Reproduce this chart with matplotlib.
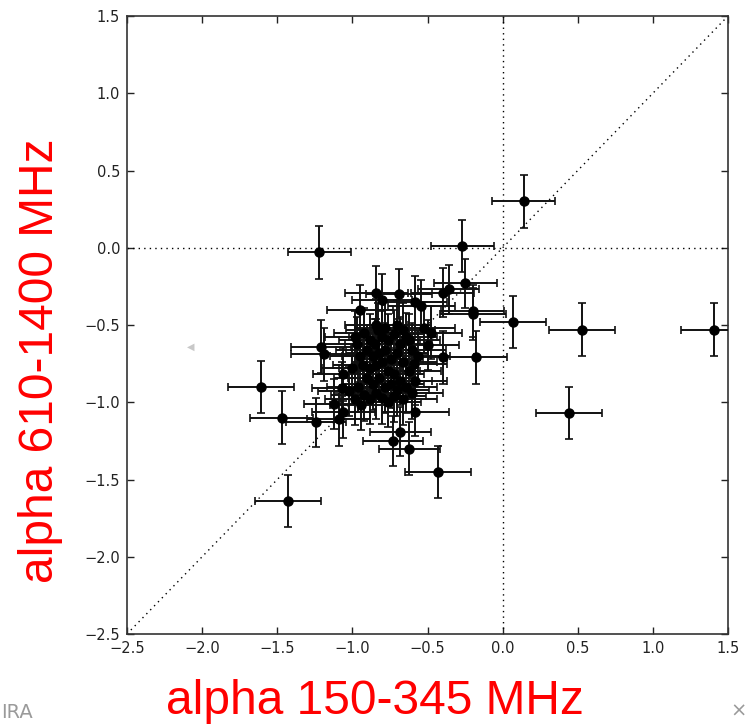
import matplotlib
matplotlib.use("Agg")
import matplotlib.pyplot as plt

plt.rcParams['font.family'] = ['DejaVu Sans']

# spectral indices: 150-345 MHz (x) vs 610-1400 MHz (y)
alpha_low = [
    -1.22, 0.14, -0.27, 0.07, 0.53, 1.41, 0.44, -1.61, -1.47, -1.43,
    -0.43, -0.62, -0.68, -0.73, -1.24, -1.09, -1.06, -1.12, -1.07, -1.02,
    -1.06, -0.58, -0.18, -0.40, -0.20, -0.20, -0.25, -0.36, -0.40, -0.58,
    -0.54, -0.69, -0.84, -0.80, -0.95, -0.52, -0.48, -1.21, -1.19, -0.83,
    -0.92, -0.88, -0.85, -0.80, -0.76, -0.72, -0.68, -0.64, -0.60, -0.90,
    -0.95, -0.86, -0.82, -0.78, -0.74, -0.70, -0.66, -0.62, -0.93, -0.88,
    -0.84, -0.80, -0.76, -0.72, -0.68, -0.90, -0.86, -0.82, -0.78, -0.74,
    -0.70, -0.64, -0.96, -0.92, -0.88, -0.84, -0.80, -0.76, -0.72, -0.98,
    -0.94, -0.66, -0.60, -0.58, -0.97, -1.00, -0.84, -0.78, -0.70, -0.66,
    -0.62, -0.56, -0.98, -0.59, -0.50,
]
alpha_high = [
    -0.03, 0.30, 0.01, -0.48, -0.53, -0.53, -1.07, -0.90, -1.10, -1.64,
    -1.45, -1.30, -1.19, -1.25, -1.13, -1.11, -1.06, -1.01, -0.91, -0.93,
    -0.82, -1.06, -0.71, -0.71, -0.41, -0.43, -0.23, -0.27, -0.29, -0.35,
    -0.38, -0.30, -0.29, -0.34, -0.40, -0.52, -0.55, -0.64, -0.69, -0.53,
    -0.55, -0.60, -0.62, -0.58, -0.60, -0.56, -0.62, -0.58, -0.66, -0.66,
    -0.70, -0.70, -0.68, -0.66, -0.72, -0.68, -0.74, -0.80, -0.76, -0.78,
    -0.76, -0.74, -0.80, -0.82, -0.86, -0.84, -0.88, -0.84, -0.90, -0.88,
    -0.92, -0.90, -0.90, -0.95, -0.98, -0.94, -0.97, -1.00, -0.96, -0.98,
    -1.02, -0.98, -0.94, -0.86, -0.62, -0.78, -0.50, -0.52, -0.50, -0.53,
    -0.60, -0.70, -0.58, -0.75, -0.63,
]
err_low = [
    0.21, 0.21, 0.21, 0.22, 0.22, 0.22, 0.22, 0.22, 0.21, 0.22,
    0.22, 0.20, 0.20, 0.20, 0.20, 0.21, 0.21, 0.20, 0.20, 0.21,
    0.20, 0.22, 0.21, 0.21, 0.21, 0.22, 0.21, 0.20, 0.21, 0.21,
    0.22, 0.22, 0.21, 0.20, 0.22, 0.20, 0.21, 0.20, 0.22, 0.21,
    0.20, 0.21, 0.20, 0.22, 0.21, 0.20, 0.21, 0.20, 0.22, 0.21,
    0.20, 0.21, 0.22, 0.20, 0.21, 0.20, 0.22, 0.21, 0.20, 0.21,
    0.22, 0.20, 0.21, 0.20, 0.21, 0.22, 0.20, 0.21, 0.20, 0.22,
    0.21, 0.20, 0.21, 0.22, 0.20, 0.21, 0.20, 0.22, 0.21, 0.20,
    0.21, 0.22, 0.20, 0.21, 0.22, 0.20, 0.21, 0.20, 0.22, 0.21,
    0.20, 0.21, 0.20, 0.22, 0.21,
]
err_high = [
    0.17, 0.17, 0.17, 0.17, 0.17, 0.17, 0.17, 0.17, 0.17, 0.17,
    0.17, 0.17, 0.16, 0.16, 0.16, 0.17, 0.17, 0.16, 0.17, 0.16,
    0.17, 0.16, 0.17, 0.17, 0.17, 0.17, 0.16, 0.16, 0.16, 0.17,
    0.17, 0.16, 0.17, 0.17, 0.16, 0.17, 0.17, 0.17, 0.17, 0.17,
    0.16, 0.17, 0.16, 0.17, 0.17, 0.16, 0.17, 0.16, 0.17, 0.16,
    0.17, 0.16, 0.17, 0.17, 0.16, 0.17, 0.16, 0.17, 0.17, 0.16,
    0.17, 0.16, 0.17, 0.17, 0.16, 0.17, 0.17, 0.16, 0.17, 0.16,
    0.17, 0.17, 0.16, 0.17, 0.16, 0.17, 0.17, 0.16, 0.17, 0.17,
    0.16, 0.17, 0.17, 0.16, 0.17, 0.16, 0.17, 0.17, 0.16, 0.17,
    0.17, 0.16, 0.17, 0.17, 0.16,
]

ticks = [-2.5, -2.0, -1.5, -1.0, -0.5, 0.0, 0.5, 1.0, 1.5]

fig = plt.figure(figsize=(7.49, 7.25), dpi=100)
ax = fig.add_axes([127 / 749, 1 - 634 / 725, 601 / 749, 618 / 725])

# reference lines
dots = (0, (1, 3))
ax.plot([-2.5, 1.5], [-2.5, 1.5], ls=dots, color='k', lw=1)
ax.axhline(0, ls=dots, color='k', lw=1)
ax.axvline(0, ls=dots, color='k', lw=1)

ax.errorbar(alpha_low, alpha_high, xerr=err_low, yerr=err_high,
            fmt='o', color='k', ms=6.5, ecolor='#111111', elinewidth=1.4,
            capsize=3, capthick=1.2, zorder=3)

ax.set_xlim(-2.5, 1.5)
ax.set_ylim(-2.5, 1.5)
ax.set_xticks(ticks)
ax.set_yticks(ticks)
ax.set_xticklabels([f"{t:.1f}".replace('-', '\u2212') for t in ticks])
ax.set_yticklabels([f"{t:.1f}".replace('-', '\u2212') for t in ticks])
ax.tick_params(direction='in', top=True, right=True, length=5, width=1,
               labelsize=10.5, pad=5, colors='#222222')
for s in ax.spines.values():
    s.set_linewidth(1.2)
    s.set_color('#333333')

red_font = dict(color='red', fontsize=34.5, family='Liberation Sans')
fig.text(375 / 749, 1 - 702 / 725, 'alpha 150-345 MHz', ha='center', va='center', **red_font)
fig.text(41 / 749, 1 - 361 / 725, 'alpha 610-1400 MHz', ha='center', va='center',
         rotation=90, **red_font)

# slide leftovers
fig.text(0.002, 0.004, 'IRA', color='#9a9a9a', fontsize=14, ha='left', va='bottom')
fig.text(0.997, 0.006, '\u00d7', color='#9a9a9a', fontsize=14, ha='right', va='bottom')
fig.text(191 / 749, 1 - 347 / 725, '\u25c0', color='#c8c8c8', fontsize=7, ha='center', va='center')

fig.savefig('out.png', dpi=100)
